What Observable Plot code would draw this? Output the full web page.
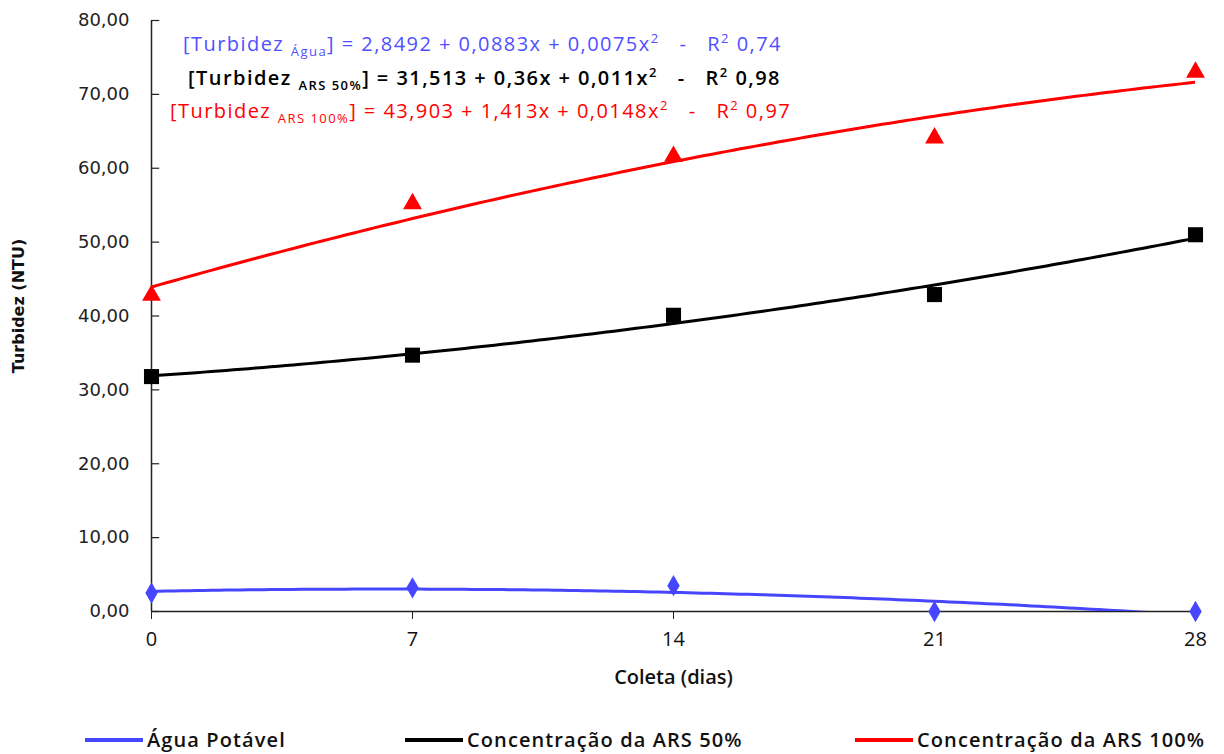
<!DOCTYPE html>
<html>
<head>
<meta charset="utf-8">
<script src="https://cdn.jsdelivr.net/npm/d3@7"></script>
<script src="https://cdn.jsdelivr.net/npm/@observablehq/plot@0.6"></script>
<style>
  body { margin: 0; background: #fff; }
  #chart { position: relative; width: 1224px; height: 754px; overflow: hidden; }
  #legend { position: absolute; left: 0; top: 715px; width: 1224px; height: 39px; }
  .item { position: absolute; top: 15px; display: flex; align-items: center; font-family: "Open Sans", sans-serif; font-weight: 600; font-size: 20px; letter-spacing: 1.1px; color: #111; white-space: nowrap; line-height: 1; }
  .item svg { margin-right: 4px; }
</style>
</head>
<body>
<div id="chart"><div id="legend"></div></div>
<script>
// ---- data ----
const days = [0, 7, 14, 21, 28];
const aguaPotavel = [2.5, 3.2, 3.5, 0, 0];
const ars50 = [31.8, 34.7, 40.1, 42.9, 51.0];
const ars100 = [42.8, 55.2, 61.6, 64.1, 73.0];
const yTicks = [0, 10, 20, 30, 40, 50, 60, 70, 80];

const seriesNames = ["Água Potável", "Concentração da ARS 50%", "Concentração da ARS 100%"];
const seriesColors = ["#4646ff", "#000000", "#ff0000"];
const seriesSymbols = ["diamond", "square", "triangle"];
const seriesValues = [aguaPotavel, ars50, ars100];

const eqSubs = ["Água", "ARS 50%", "ARS 100%"];
const eqBodies = ["= 2,8492 + 0,0883x + 0,0075x", "= 31,513 + 0,36x + 0,011x", "= 43,903 + 1,413x + 0,0148x"];
const eqR2 = ["0,74", "0,98", "0,97"];
const eqColors = ["#5050ff", "#000000", "#ff0000"];

// ---- least-squares quadratic trend (like the spreadsheet's polynomial trendline) ----
function quadFit(xs, ys) {
  const S = [[0,0,0],[0,0,0],[0,0,0]], T = [0,0,0];
  xs.forEach((x, i) => {
    const p = [1, x, x * x];
    for (let a = 0; a < 3; a++) {
      T[a] += p[a] * ys[i];
      for (let b = 0; b < 3; b++) S[a][b] += p[a] * p[b];
    }
  });
  const M = S.map((row, i) => [...row, T[i]]);
  for (let c = 0; c < 3; c++) {
    let piv = c;
    for (let r = c + 1; r < 3; r++) if (Math.abs(M[r][c]) > Math.abs(M[piv][c])) piv = r;
    [M[c], M[piv]] = [M[piv], M[c]];
    for (let r = 0; r < 3; r++) {
      if (r === c) continue;
      const f = M[r][c] / M[c][c];
      for (let k = c; k < 4; k++) M[r][k] -= f * M[c][k];
    }
  }
  return [M[0][3] / M[0][0], M[1][3] / M[1][1], M[2][3] / M[2][2]];
}

const points = [];
const trend = [];
seriesNames.forEach((name, s) => {
  days.forEach((d, i) => points.push({series: name, x: d, y: seriesValues[s][i]}));
  const [a, b, c] = quadFit(days, seriesValues[s]);
  d3.range(0, 28.001, 0.2).forEach(x => trend.push({series: name, x, y: a + b * x + c * x * x}));
});

const symbolR = {diamond: 6.5, square: 8.5, triangle: 7};

const marks = [
  Plot.ruleY(yTicks, {x1: 0, x2: 0.22, stroke: "#222", strokeWidth: 1.2}),
  Plot.ruleX([0], {stroke: "#222", strokeWidth: 1.5}),
  Plot.ruleY([0], {stroke: "#222", strokeWidth: 1.5}),
  Plot.axisY({ticks: yTicks, tickSize: 0, tickPadding: 22, label: null, fontSize: 18,
    fontFamily: "DejaVu Sans", fill: "#222", letterSpacing: 0.5,
    tickFormat: d => d3.format(".2f")(d).replace(".", ",")}),
  Plot.axisX({ticks: days, tickSize: 8, tickPadding: 12, label: null, fontSize: 20,
    fontFamily: "Open Sans", fill: "#111", stroke: "#222"}),
  Plot.text(["Coleta (dias)"], {frameAnchor: "bottom", dy: 72, fontSize: 20, fontWeight: 600,
    fontFamily: "Open Sans", fill: "#111", letterSpacing: 0.8}),
  Plot.text(["Turbidez (NTU)"], {frameAnchor: "left", textAnchor: "middle", dx: -133, dy: -10, rotate: -90,
    fontSize: 16, fontWeight: 700, fontFamily: "DejaVu Sans", fill: "#111", letterSpacing: 1})
];
seriesNames.forEach((name, s) => {
  marks.push(Plot.line(trend.filter(d => d.series === name), {x: "x", y: "y", stroke: seriesColors[s],
    strokeWidth: 3, clip: true}));
});
seriesNames.forEach((name, s) => {
  marks.push(Plot.dot(points.filter(d => d.series === name), {x: "x", y: "y", symbol: seriesSymbols[s],
    fill: seriesColors[s], r: symbolR[seriesSymbols[s]]}));
});

const svg = Plot.plot({
  width: 1224,
  height: 715,
  marginLeft: 151,
  marginRight: 29,
  marginTop: 20,
  marginBottom: 104,
  x: {domain: [0, 28]},
  y: {domain: [0, 80]},
  style: {background: "white", overflow: "visible"},
  marks
});

// equations annotation
const eqX = [183, 188, 170];
const eqY = [51, 85, 118];
const g = d3.select(svg).append("g")
  .attr("font-family", "Open Sans, sans-serif").attr("font-size", 20)
  .attr("text-anchor", "start").attr("letter-spacing", 1.45);
eqSubs.forEach((sub, i) => {
  const t = g.append("text").attr("x", eqX[i]).attr("y", eqY[i]).attr("fill", eqColors[i])
    .attr("font-weight", i === 1 ? 600 : 500);
  t.append("tspan").text("[Turbidez ");
  t.append("tspan").attr("dy", 5).attr("font-size", 13).text(sub);
  t.append("tspan").attr("dy", -5).text("] " + eqBodies[i]);
  t.append("tspan").attr("dy", -8).attr("font-size", 13).text("2");
  t.append("tspan").attr("dy", 8).text("\u00a0\u00a0\u00a0-\u00a0\u00a0\u00a0R");
  t.append("tspan").attr("dy", -8).attr("font-size", 13).text("2");
  t.append("tspan").attr("dy", 8).text(" " + eqR2[i]);
});

document.getElementById("chart").prepend(svg);

// legend
const legendX = [85, 405, 855];
const legend = d3.select("#legend");
seriesNames.forEach((name, s) => {
  const item = legend.append("div").attr("class", "item").style("left", legendX[s] + "px");
  const sw = item.append("svg").attr("width", 58).attr("height", 10);
  sw.append("line").attr("x1", 0).attr("x2", 58).attr("y1", 5).attr("y2", 5)
    .attr("stroke", seriesColors[s]).attr("stroke-width", 4);
  item.append("span").text(name);
});
</script>
</body>
</html>
